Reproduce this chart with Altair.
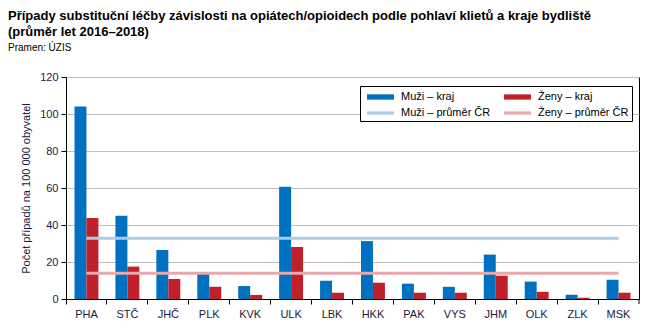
import altair as alt
import pandas as pd

regions = ["PHA", "STČ", "JHČ", "PLK", "KVK", "ULK", "LBK", "HKK", "PAK", "VYS", "JHM", "OLK", "ZLK", "MSK"]
men = [104.0, 45.0, 26.5, 13.5, 7.0, 60.7, 9.9, 31.3, 8.3, 6.6, 24.0, 9.4, 2.3, 10.4]
women = [43.8, 17.5, 10.8, 6.6, 2.2, 28.1, 3.4, 8.8, 3.4, 3.4, 12.6, 3.9, 0.7, 3.4]
men_avg = 32.8
women_avg = 13.9

bar_series = ["Muži – kraj", "Ženy – kraj"]
line_series = ["Muži – průměr ČR", "Ženy – průměr ČR"]
# legend order (two columns): men left, women right
legend_order = ["Muži – kraj", "Muži – průměr ČR", "Ženy – kraj", "Ženy – průměr ČR"]
legend_colors = ["#0070c0", "#a9cde8", "#c0202a", "#e8a9ae"]
bar_shape = "M-0.5,-0.33H2.875V0.33H-0.5Z"
line_shape = "M-0.5,-0.2H2.875V0.2H-0.5Z"
legend_shapes = [bar_shape, line_shape, bar_shape, line_shape]

rows = []
for r, m, w in zip(regions, men, women):
    rows.append({"region": r, "series": bar_series[0], "value": m})
    rows.append({"region": r, "series": bar_series[1], "value": w})
bars_df = pd.DataFrame(rows)

lrows = []
for r in regions:
    lrows.append({"region": r, "series": line_series[0], "value": men_avg})
    lrows.append({"region": r, "series": line_series[1], "value": women_avg})
lines_df = pd.DataFrame(lrows)

FONT = "Liberation Sans"
LABEL_COLOR = "#1a1a40"

x_axis = alt.Axis(
    title=None,
    bandPosition=0,
    labelAngle=0,
    labelFontSize=11,
    labelColor=LABEL_COLOR,
    labelPadding=4,
    tickSize=5,
    tickColor="black",
    domainColor="black",
    grid=False,
)
y_axis = alt.Axis(
    values=[0, 20, 40, 60, 80, 100, 120],
    title="Počet případů na 100 000 obyvatel",
    titleFontSize=11,
    titleFontWeight="normal",
    titleColor=LABEL_COLOR,
    titlePadding=8,
    labelFontSize=11,
    labelColor=LABEL_COLOR,
    labelPadding=3,
    labelOverlap=False,
    tickSize=5,
    tickColor="black",
    domainColor="black",
    gridColor="#bfbfbf",
    gridWidth=1,
)


def x_enc(**kw):
    return alt.X("region:N", sort=regions,
                 scale=alt.Scale(paddingInner=0, paddingOuter=0), axis=x_axis, **kw)


def y_enc():
    return alt.Y("value:Q", scale=alt.Scale(domain=[0, 120]), axis=y_axis)


color_scale = alt.Scale(domain=legend_order, range=legend_colors)

legend_props = dict(
    title=None,
    orient="none",
    legendX=294,
    legendY=9,
    columns=2,
    symbolSize=256,
    symbolStrokeWidth=0,
    symbolOpacity=1,
    labelOffset=22,
    labelFontSize=11,
    labelColor="black",
    labelFont=FONT,
    columnPadding=9,
    rowPadding=3,
    padding=3,
    strokeColor="black",
    fillColor="white",
)

bars = alt.Chart(bars_df).mark_bar().encode(
    x=x_enc(),
    xOffset=alt.XOffset("series:N", sort=bar_series,
                        scale=alt.Scale(paddingOuter=0.71, paddingInner=0)),
    y=y_enc(),
    color=alt.Color("series:N", scale=color_scale, legend=alt.Legend(**legend_props)),
)

lines = alt.Chart(lines_df).mark_line(strokeWidth=3).encode(
    x=x_enc(),
    y=y_enc(),
    color=alt.Color("series:N", scale=color_scale, legend=alt.Legend(**legend_props)),
    detail="series:N",
)

# closing tick at the right end of the category axis
end_tick = alt.Chart(pd.DataFrame({"region": [regions[-1]]})).mark_rule(color="black").encode(
    x=x_enc(bandPosition=1),
    y=alt.value(222),
    y2=alt.value(227),
)

legend_layer = alt.Chart(bars_df).mark_point(filled=True).encode(
    x=x_enc(),
    y=y_enc(),
    color=alt.Color("series:N", scale=color_scale, legend=alt.Legend(**legend_props)),
    shape=alt.Shape("series:N", scale=alt.Scale(domain=legend_order, range=legend_shapes),
                    legend=alt.Legend(**legend_props)),
).transform_filter("false")

chart = alt.layer(bars, lines, end_tick, legend_layer).properties(
    width=573,
    height=222,
    autosize=alt.AutoSizeParams(type="none"),
    padding={"left": 66, "top": 77, "right": 27, "bottom": 29},
    title=alt.TitleParams(
        text=["Případy substituční léčby závislosti na opiátech/opioidech podle pohlaví klietů a kraje bydliště",
              "(průměr let 2016–2018)"],
        subtitle="Pramen: ÚZIS",
        anchor="start",
        frame="group",
        dx=-58,
        offset=18,
        font=FONT,
        fontSize=13,
        fontWeight="bold",
        color="black",
        lineHeight=16,
        subtitleFont=FONT,
        subtitleFontSize=10,
        subtitleColor="black",
        subtitlePadding=4,
    ),
).configure(
    font=FONT,
    background="white",
).configure_axisY(
    labelOverlap=False,
).configure_view(
    stroke="black",
    strokeWidth=1,
)

chart.save("out.html", embed_options={"renderer": "svg", "actions": False})
